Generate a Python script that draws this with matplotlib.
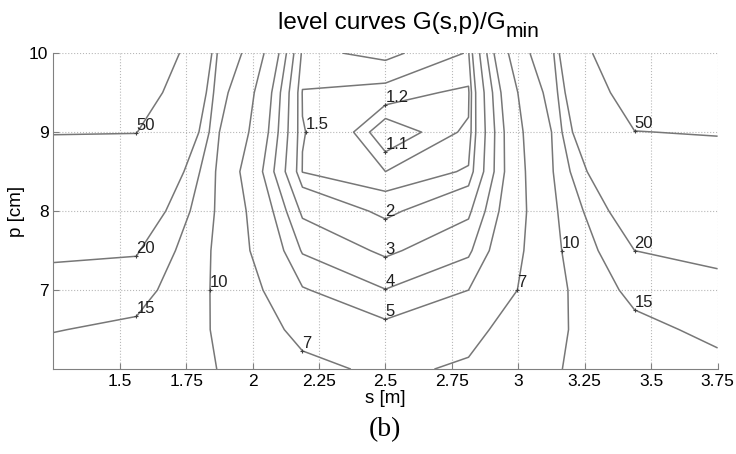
import numpy as np
import matplotlib.pyplot as plt

plt.rcParams['font.family'] = ['Liberation Sans', 'DejaVu Sans']

# grid of the computation
s = np.array([1.25, 1.5625, 1.875, 2.1875, 2.5, 2.8125, 3.125, 3.4375, 3.75])
p = np.array([6.0, 6.5, 7.0, 7.5, 8.0, 8.5, 9.0, 9.5, 10.0])

# G(s,p)/Gmin, one row per p value
G = np.array([
    [12.5, 11.5, 9.95, 7.6, 6.57, 7.3, 9.85, 11.0, 13.5],
    [15.2, 14.0, 9.5, 6.3, 5.34, 6.3, 9.1, 13.5, 16.3],
    [17.7, 17.0, 9.1, 5.1, 4.03, 5.0, 8.4, 16.5, 18.0],
    [21.0, 20.5, 8.8, 3.9, 2.80, 3.8, 8.6, 20.0, 21.7],
    [27.0, 26.0, 9.0, 2.8, 1.80, 2.8, 8.8, 25.0, 27.0],
    [36.0, 35.0, 8.8, 1.48, 1.20, 1.55, 9.5, 34.0, 37.0],
    [51.0, 50.5, 10.0, 1.52, 1.00, 1.23, 10.0, 49.5, 51.5],
    [70.0, 68.0, 11.0, 1.47, 1.29, 1.15, 11.0, 66.0, 70.0],
    [95.0, 90.0, 13.0, 1.85, 2.16, 1.46, 13.0, 88.0, 95.0],
])

levels = [1.1, 1.2, 1.5, 2, 3, 4, 5, 7, 10, 15, 20, 50]

# where each label sits (level, near s, near p)
label_at = [
    (50, 1.5625, 8.98), (50, 3.4375, 9.02),
    (20, 1.5625, 7.42), (20, 3.4375, 7.5),
    (15, 1.5625, 6.66), (15, 3.4375, 6.75),
    (10, 1.84, 7.0), (10, 3.18, 7.26),
    (7, 2.1875, 6.22), (7, 3.0, 7.0),
    (5, 2.5, 6.63), (4, 2.5, 7.01), (3, 2.5, 7.42), (2, 2.5, 7.91),
    (1.5, 2.2, 9.0), (1.2, 2.5, 9.345), (1.1, 2.5, 8.75),
]

fig = plt.figure(figsize=(7.36, 4.54), dpi=100)
ax = fig.add_axes([0.0725, 0.187, 0.9025, 0.696])

cs = ax.contour(s, p, G, levels=levels, colors='#777777', linewidths=1.1)

for lev, s0, p0 in label_at:
    segs = cs.allsegs[levels.index(lev)]
    pts = np.vstack(segs)
    d = ((pts[:, 0] - s0) / 2.5) ** 2 + ((pts[:, 1] - p0) / 4.0) ** 2
    x, y = pts[np.argmin(d)]
    ax.plot(x, y, marker='+', color='#404040', ms=3.5, mew=0.8)
    ax.annotate('%g' % lev, (x, y), xytext=(0, 0), textcoords='offset points',
                ha='left', va='bottom', fontsize=12, color='#202020')

ax.set_xlim(1.25, 3.75)
ax.set_ylim(6, 10)
ax.set_xticks([1.5, 1.75, 2, 2.25, 2.5, 2.75, 3, 3.25, 3.5, 3.75])
ax.set_xticklabels(['1.5', '1.75', '2', '2.25', '2.5', '2.75', '3', '3.25', '3.5', '3.75'])
ax.set_yticks([7, 8, 9, 10])
ax.grid(True, linestyle=':', color='#b8b8b8', linewidth=0.8)
ax.tick_params(direction='in', length=4, labelsize=12.5, colors='#808080', labelcolor='black')
ax.spines['top'].set_visible(False)
ax.spines['right'].set_visible(False)
for sp in ['left', 'bottom']:
    ax.spines[sp].set_color('#808080')

ax.set_xlabel('s [m]', fontsize=13.5, labelpad=1)
ax.set_ylabel('p [cm]', fontsize=13.5, labelpad=3)

# title with a full size "min" subscript, as in the original
fig.text(0.6865, 0.937, 'level curves G(s,p)/G', ha='right', va='baseline', fontsize=17.5)
fig.text(0.6865, 0.918, 'min', ha='left', va='baseline', fontsize=15)

fig.text(0.523, 0.053, '(b)', ha='center', va='center', fontsize=20,
         family=['Liberation Serif', 'DejaVu Serif'])

fig.savefig('out.png', dpi=100)
